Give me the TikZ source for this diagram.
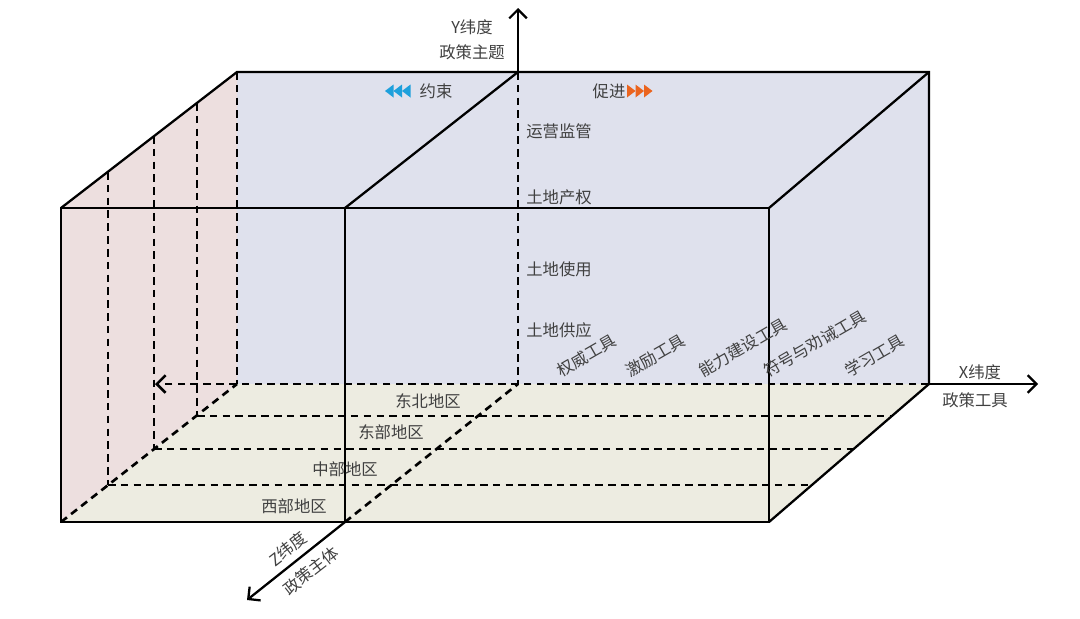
\documentclass[tikz,border=0pt]{standalone}
\usepackage{fontspec}
\setmainfont{Noto Sans CJK SC}
\usetikzlibrary{arrows.meta}
\definecolor{backface}{RGB}{223,225,237}
\definecolor{leftface}{RGB}{237,223,223}
\definecolor{floorface}{RGB}{237,236,225}
\definecolor{labelgray}{RGB}{64,64,64}
\definecolor{holdblue}{RGB}{30,160,220}
\definecolor{pushorange}{RGB}{235,100,30}
\tikzset{
	edge/.style={line width=1.3pt},
	hidden/.style={line width=1.5pt, dash pattern=on 4.3pt off 3pt},
	axis/.style={line width=1.3pt, -{Straight Barb[length=5pt,width=10pt]}},
	lbl/.style={text=labelgray, font=\fontsize{9.3}{11}\selectfont, inner sep=0pt},
}
\begin{document}
\begin{tikzpicture}[x=0.02cm, y=-0.02cm]
	\useasboundingbox (0,0) rectangle (1080,619);
	\coordinate (F_tl) at (61,208);
	\coordinate (F_tr) at (769,208);
	\coordinate (F_br) at (769,522);
	\coordinate (F_bl) at (61,522);
	\coordinate (B_tl) at (237,72);
	\coordinate (B_tr) at (929,72);
	\coordinate (B_br) at (929,384);
	\coordinate (B_bl) at (237,384);
	\coordinate (M_t) at (345,208);
	\coordinate (M_b) at (345,522);
	\coordinate (N_t) at (518,72);
	\coordinate (N_b) at (518,384);
	\coordinate (Y_end) at (518,8);
	\coordinate (X_end) at (1038,384);
	\coordinate (X_back) at (155,384);
	\coordinate (Z_end) at (247,600);
	\fill[backface] (B_tl) -- (B_tr) -- (B_br) -- (B_bl) -- cycle;
	\fill[leftface] (F_tl) -- (B_tl) -- (B_bl) -- (F_bl) -- cycle;
	\fill[floorface] (F_bl) -- (F_br) -- (B_br) -- (B_bl) -- cycle;
	% grid on the left face and the floor
	\foreach \x/\yt/\yb in {108/172/485, 154/136/449, 197/103/416}
		\draw[hidden] (\x,\yt) -- (\x,\yb);
	\foreach \xl/\xr/\y in {108/812/485, 154/854/449, 197/892/416}
		\draw[hidden] (\xl,\y) -- (\xr,\y);
	\draw[hidden] (B_tl) -- (B_bl);
	\draw[hidden] (N_t) -- (N_b);
	\draw[hidden] (F_bl) -- (B_bl);
	\draw[hidden] (M_b) -- (N_b);
	\draw[hidden, -{Straight Barb[length=5pt,width=10pt]}] (B_br) -- (X_back);
	\draw[edge] (F_tl) -- (F_tr) -- (F_br) -- (F_bl) -- cycle;
	\draw[edge] (F_tl) -- (B_tl) -- (B_tr) -- (B_br) -- (F_br);
	\draw[edge] (F_tr) -- (B_tr);
	\draw[edge] (M_t) -- (M_b);
	\draw[edge] (M_t) -- (N_t);
	\draw[axis] (N_t) -- (Y_end);
	\draw[axis] (B_br) -- (X_end);
	\draw[axis] (M_b) -- (Z_end);
	% constrain / promote marks
	\foreach \i in {0,1,2}
		\fill[holdblue] ({385+8.5*\i},91) -- ++(8.5,-6.5) -- ++(0,13) -- cycle;
	\foreach \i in {0,1,2}
		\fill[pushorange] ({627+8.5*\i},84.5) -- ++(8.5,6.5) -- ++(-8.5,6.5) -- cycle;
	\node[lbl] (hold) at (436,91) {约束};
	\node[lbl] (push) at (609,91) {促进};
	\node[lbl, align=center] (Y_lbl) at (472,40) {Y纬度\\[3pt]政策主题};
	\node[lbl] (X_top) at (980,372) {X纬度};
	\node[lbl] (X_bot) at (975,400) {政策工具};
	\node[lbl, rotate=38] (Z_top) at (288,549) {Z纬度};
	\node[lbl, rotate=38] (Z_bot) at (311,571) {政策主体};
	\node[lbl, anchor=west] (y_4) at (526,131) {运营监管};
	\node[lbl, anchor=west] (y_3) at (526,197) {土地产权};
	\node[lbl, anchor=west] (y_2) at (526,269) {土地使用};
	\node[lbl, anchor=west] (y_1) at (526,330) {土地供应};
	\node[lbl, rotate=30, anchor=south west] (x_1) at (562,379) {权威工具};
	\node[lbl, rotate=30, anchor=south west] (x_2) at (631,379) {激励工具};
	\node[lbl, rotate=30, anchor=south west] (x_3) at (704,379) {能力建设工具};
	\node[lbl, rotate=30, anchor=south west] (x_4) at (769,379) {符号与劝诫工具};
	\node[lbl, rotate=30, anchor=south west] (x_5) at (850,379) {学习工具};
	\node[lbl] (z_4) at (428,401) {东北地区};
	\node[lbl] (z_3) at (391,432) {东部地区};
	\node[lbl] (z_2) at (345,469) {中部地区};
	\node[lbl] (z_1) at (294,506) {西部地区};
\end{tikzpicture}
\end{document}
